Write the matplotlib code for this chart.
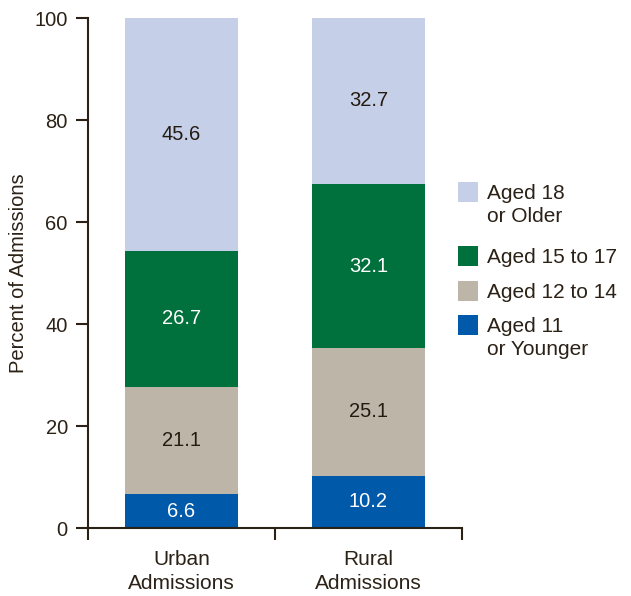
import matplotlib.pyplot as plt
import numpy as np
from matplotlib.patches import Rectangle

plt.rcParams['font.family'] = ['Liberation Sans', 'DejaVu Sans']

groups = ['Urban\nAdmissions', 'Rural\nAdmissions']
age_labels = ['Aged 11\nor Younger', 'Aged 12 to 14', 'Aged 15 to 17', 'Aged 18\nor Older']
under_12 = [6.6, 10.2]
age_12_14 = [21.1, 25.1]
age_15_17 = [26.7, 32.1]
over_18 = [45.6, 32.7]

series = [under_12, age_12_14, age_15_17, over_18]
colors = ['#0059a9', '#bdb6a8', '#00703c', '#c6cfe8']
text_colors = ['white', '#231a10', 'white', '#231a10']
ink = '#2b2116'

W, H = 631, 596
fig = plt.figure(figsize=(W / 100, H / 100), dpi=100)
ax = fig.add_axes([88 / W, 1 - 528 / H, 374 / W, 510 / H])

x = np.arange(len(groups))
bottom = np.zeros(len(groups))
for vals, c, tc in zip(series, colors, text_colors):
    vals = np.array(vals)
    ax.bar(x, vals, width=0.6, bottom=bottom, color=c, edgecolor='none')
    for xi, b, v in zip(x, bottom, vals):
        ax.text(xi, b + v / 2, f'{v:.1f}', ha='center', va='center',
                fontsize=14.5, color=tc)
    bottom += vals

ax.set_xlim(-0.5, 1.5)
ax.set_ylim(0, 100)
ax.set_yticks([0, 20, 40, 60, 80, 100])
ax.set_xticks(x)
ax.set_xticklabels(groups, fontsize=15, color=ink, linespacing=1.35)
ax.tick_params(axis='x', length=0, pad=16)
ax.set_xticks([-0.5, 0.5, 1.5], minor=True)
ax.tick_params(axis='x', which='minor', length=8.5, width=1.5, color=ink, direction='out')
ax.tick_params(axis='y', length=8.5, width=1.5, color=ink, labelsize=14.5,
               labelcolor=ink, pad=6)
ax.set_ylabel('Percent of Admissions', fontsize=14.5, color=ink, va='center')
ax.yaxis.set_label_coords(-0.187, 0.5)

for side in ['top', 'right']:
    ax.spines[side].set_visible(False)
for side in ['left', 'bottom']:
    ax.spines[side].set_color(ink)
    ax.spines[side].set_linewidth(1.5)

# legend drawn by hand, top entry is the oldest group
patch_tops = [182, 246, 281, 315]
for top, c, lab in zip(patch_tops, colors[::-1], age_labels[::-1]):
    fig.add_artist(Rectangle((458 / W, 1 - (top + 20) / H), 20 / W, 20 / H,
                             transform=fig.transFigure, facecolor=c,
                             edgecolor='none'))
    fig.text(487 / W, 1 - (top + 2) / H, lab, ha='left', va='top',
             fontsize=15, color=ink, linespacing=1.25)

fig.savefig('out.png', dpi=100)
